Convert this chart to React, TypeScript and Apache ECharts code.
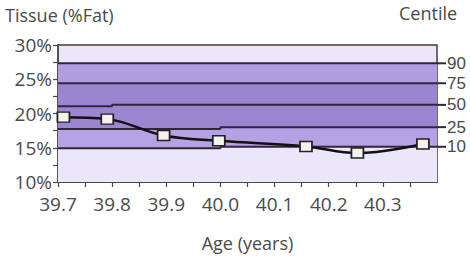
import React, { useEffect, useRef } from "react";
import * as echarts from "echarts";

// Measured ages (years) and tissue fat (%)
const ages = [39.71, 39.791, 39.895, 39.997, 40.158, 40.253, 40.374];
const fatValues = [19.47, 19.18, 16.79, 16.02, 15.19, 14.22, 15.54];

// Centile reference lines: [age, value] breakpoints
const centileNames = ["90", "75", "50", "25", "10"];
const c90 = [[39.7, 27.33], [40.4, 27.33]];
const c75 = [[39.7, 24.42], [40.4, 24.42]];
const c50 = [[39.7, 21.07], [39.8, 21.07], [39.8, 21.26], [40.4, 21.26]];
const c25 = [[39.7, 17.72], [40.0, 17.72], [40.0, 18.01], [40.4, 18.01]];
const c10 = [[39.7, 14.92], [40.0, 14.92], [40.0, 15.14], [40.4, 15.14]];
const centileData = [c90, c75, c50, c25, c10];
const bandColors = ["#b09ee0", "#9a85d0", "#9c86d2", "#b4a2e4", "#ebe6fa"];

const FONT = "'Open Sans', 'Noto Sans', sans-serif";
const SMALLFONT = "'Liberation Sans', Arial, sans-serif";
const TXT = "#4a4a4a";

export default function App() {
  const ref = useRef<HTMLDivElement>(null);
  useEffect(() => {
    if (!ref.current) return;
    const chart = echarts.init(ref.current, undefined, { renderer: "svg" });
    const centileSeries = centileData.map((d, i) => ({
      type: "line",
      name: centileNames[i],
      data: d,
      symbol: "none",
      silent: true,
      z: 2 + i,
      lineStyle: { color: "#33253a", width: 2 },
      areaStyle: { color: bandColors[i], opacity: 1, origin: "start" },
      endLabel: {
        show: true,
        formatter: "{t|}{n|" + centileNames[i] + "}",
        distance: 0,
        rich: {
          t: { width: 9, height: 2, backgroundColor: "#33253a" },
          n: { fontSize: 17, lineHeight: 15, color: TXT, fontFamily: SMALLFONT, padding: [0, 0, 0, 1] },
        },
      },
    }));
    chart.setOption({
      animation: false,
      textStyle: { fontFamily: FONT, color: TXT },
      grid: {
        left: 58,
        right: 33,
        top: 45,
        bottom: 83,
        show: true,
        backgroundColor: "#ece7f8",
        borderColor: "#4a3a3a",
        borderWidth: 1.5,
      },
      graphic: [
        {
          type: "text",
          left: 5,
          top: 6,
          style: { text: "Tissue (%Fat)", fontSize: 18, fill: TXT, fontFamily: FONT },
        },
        {
          type: "text",
          left: 399,
          top: 4,
          style: { text: "Centile", fontSize: 18, fill: TXT, fontFamily: FONT },
        },
      ],
      xAxis: {
        type: "value",
        min: 39.7,
        max: 40.4,
        interval: 0.05,
        name: "Age (years)",
        nameLocation: "middle",
        nameGap: 52,
        nameTextStyle: { fontSize: 18, color: TXT, fontFamily: FONT },
        axisLine: { lineStyle: { color: "#4a3a3a", width: 1.5 } },
        axisTick: { show: true, length: 5, inside: false, lineStyle: { color: "#4a4a4a", width: 1.2 } },
        splitLine: { show: false },
        axisLabel: {
          fontSize: 19,
          color: TXT,
          fontFamily: FONT,
          margin: 12,
          showMaxLabel: false,
          formatter: (v: number) => {
            const k = Math.round(v * 100);
            return k % 10 === 0 && k < 4040 ? (k / 100).toFixed(1) : "";
          },
        },
      },
      yAxis: {
        type: "value",
        min: 10,
        max: 30,
        interval: 2.5,
        axisLine: { show: true, lineStyle: { color: "#4a4a4a", width: 1.5 } },
        axisTick: { show: true, length: 5, lineStyle: { color: "#4a4a4a", width: 1.2 } },
        splitLine: { show: false },
        axisLabel: {
          fontSize: 19,
          color: TXT,
          fontFamily: FONT,
          margin: 6,
          formatter: (v: number) => (Math.round(v * 10) % 50 === 0 ? v + "%" : ""),
        },
      },
      series: [
        ...centileSeries,
        {
          type: "line",
          name: "Tissue",
          data: ages.map((a, i) => [a, fatValues[i]]),
          smooth: 0.4,
          z: 10,
          symbol: "rect",
          symbolSize: [12, 10],
          lineStyle: { color: "#111", width: 2.5 },
          itemStyle: { color: "#f4f1ee", borderColor: "#222", borderWidth: 1.6 },
        },
      ],
    });
    return () => chart.dispose();
  }, []);
  return (
    <div
      ref={ref}
      style={{ position: "fixed", left: 0, top: 0, width: 470, height: 265, background: "#fff" }}
    />
  );
}
